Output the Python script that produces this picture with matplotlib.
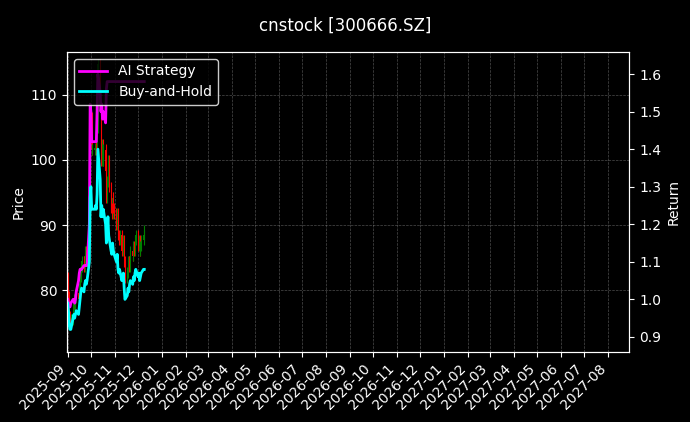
import matplotlib
matplotlib.use("Agg")
import matplotlib.pyplot as plt
import matplotlib.dates as mdates
import matplotlib.ticker as mticker
import pandas as pd

dates = pd.bdate_range("2025-09-01", periods=72)
bh = [0.99,0.97,0.93,0.92,0.92,0.95,0.96,0.95,0.96,0.97,0.96,0.98,1.00,1.02,1.03,1.02,1.04,1.05,1.04,1.05,1.10,1.27,
      1.30,1.24,1.24,1.24,1.25,1.24,1.28,1.40,1.32,1.22,1.25,1.22,1.24,1.20,1.15,1.18,1.22,1.17,1.13,1.12,1.15,1.13,1.12,
      1.10,1.12,1.08,1.07,1.08,1.05,1.06,1.07,1.03,1.00,1.01,1.03,1.02,1.04,1.05,1.04,1.06,1.05,1.07,1.08,
      1.06,1.07,1.05,1.06,1.07,1.08,1.08]
strat = [1.00,0.99,0.98,0.98,0.99,1.00,1.00,0.99,1.00,1.02,1.05,1.07,1.08,1.08,1.08,1.09,1.09,1.09,1.09,1.09,1.20,1.52,
         1.50,1.42,1.42,1.42,1.42,1.42,1.50,1.60,1.55,1.50,1.52,1.48,1.50,1.47,1.56,1.58] + [1.58]*34
close = [80.5,79.0,76.0,75.2,75.5,77.8,78.6,77.9,78.8,79.5,78.7,80.3,82.0,83.6,84.4,83.6,85.2,86.0,85.2,86.0,90.1,104.0,
         106.5,101.6,101.6,101.8,102.4,101.6,104.9,114.7,108.1,99.9,102.4,99.9,101.6,98.3,94.2,96.7,99.9,95.8,92.6,91.8,94.2,92.6,91.8,
         90.1,91.8,88.5,87.7,88.5,86.0,86.8,87.7,84.4,81.9,82.7,84.4,83.6,85.2,86.0,85.2,86.8,86.0,87.7,88.5,
         86.8,87.7,86.0,86.8,87.7,88.5,89.2]
openp = [82.0] + close[:-1]

plt.rcParams['font.family'] = ['DejaVu Sans']
fig = plt.figure(figsize=(6.9, 4.22), dpi=100, facecolor='black')
ax = fig.add_axes([0.097, 0.166, 0.815, 0.711])
ax.set_facecolor('black')
for d, o, c in zip(dates, openp, close):
    col = 'green' if c >= o else 'red'
    lo, hi = min(o, c), max(o, c)
    ax.vlines(d, lo - 0.8, hi + 0.8, color=col, lw=0.8)
    ax.bar(d, max(hi - lo, 0.2), bottom=lo, width=1.0, color=col)
ax.set_ylim(70.5, 116.6)
ax.yaxis.set_major_locator(mticker.MultipleLocator(10))
ax.set_ylabel('Price', color='white')
ax2 = ax.twinx()
l1, = ax2.plot(dates, strat, color='magenta', lw=2, label='AI Strategy')
l2, = ax2.plot(dates, bh, color='cyan', lw=2, label='Buy-and-Hold')
ax2.set_ylim(0.86, 1.659)
ax2.yaxis.set_major_locator(mticker.MultipleLocator(0.1))
ax2.set_ylabel('Return', color='white')
ax.set_xlim(pd.Timestamp("2025-08-31"), pd.Timestamp("2027-08-28"))
ax.xaxis.set_major_locator(mdates.MonthLocator())
ax.xaxis.set_major_formatter(mdates.DateFormatter('%Y-%m'))
plt.setp(ax.get_xticklabels(), rotation=45, ha='right')
for a in (ax, ax2):
    a.tick_params(colors='white')
    for s in a.spines.values():
        s.set_color('white')
ax.grid(True, color='gray', ls='--', lw=0.5, alpha=0.6)
leg = ax2.legend(handles=[l1, l2], loc='upper left', facecolor='black', edgecolor='white', labelcolor='white')
fig.suptitle('cnstock [300666.SZ]', color='white', y=0.96)
fig.savefig('out.png', facecolor='black')
